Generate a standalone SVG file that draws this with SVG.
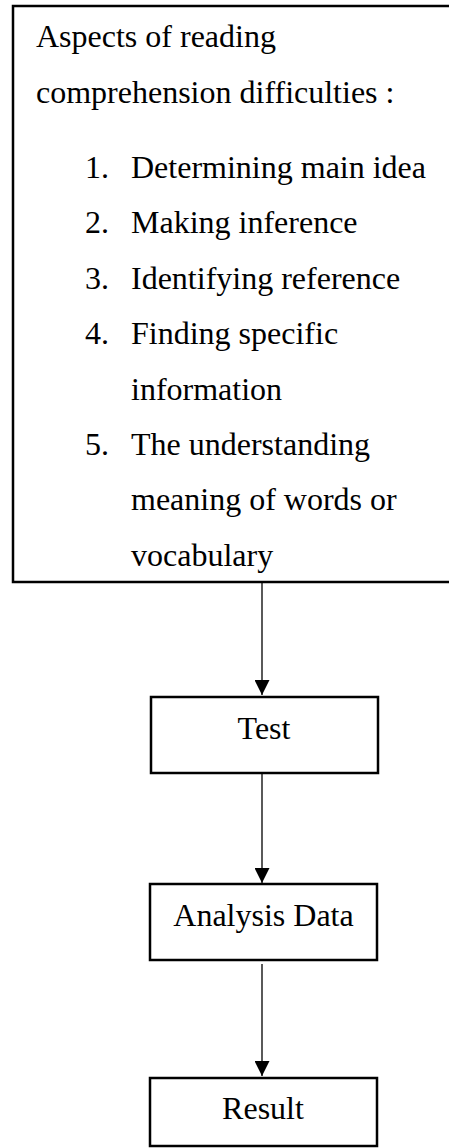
<svg xmlns="http://www.w3.org/2000/svg" width="449" height="1148" viewBox="0 0 449 1148">
<style>
.box{fill:#fff;stroke:#000;stroke-width:2.5}
.t{font-family:"Liberation Serif","Times New Roman",serif;font-size:32px;fill:#000}
.c{text-anchor:middle}
.edge{stroke:#000;stroke-width:1.3;fill:none}
</style>
<defs>
<marker id="arr" markerWidth="15" markerHeight="15" refX="15" refY="7.5" orient="auto" markerUnits="userSpaceOnUse">
<path d="M0,0 L15,7.5 L0,15 Z" fill="#000"/>
</marker>
</defs>
<rect width="449" height="1148" fill="#fff"/>
<g id="aspects">
<rect class="box" x="13" y="6" width="445" height="576"/>
<text class="t" x="36" y="47">Aspects of reading</text>
<text class="t" x="36" y="102.5">comprehension difficulties :</text>
<text class="t" x="85" y="178">1.</text><text class="t" x="131" y="178">Determining main idea</text>
<text class="t" x="85" y="233.4">2.</text><text class="t" x="131" y="233.4">Making inference</text>
<text class="t" x="85" y="288.8">3.</text><text class="t" x="131" y="288.8">Identifying reference</text>
<text class="t" x="85" y="344.2">4.</text><text class="t" x="131" y="344.2">Finding specific</text>
<text class="t" x="131" y="399.6">information</text>
<text class="t" x="85" y="455">5.</text><text class="t" x="131" y="455">The understanding</text>
<text class="t" x="131" y="510.4">meaning of words or</text>
<text class="t" x="131" y="565.8">vocabulary</text>
</g>
<g id="test">
<rect class="box" x="151" y="697" width="227" height="76"/>
<text class="t c" x="264" y="739">Test</text>
</g>
<g id="analysis">
<rect class="box" x="150" y="884" width="227" height="76"/>
<text class="t c" x="263.5" y="926">Analysis Data</text>
</g>
<g id="result">
<rect class="box" x="150" y="1078" width="227" height="68"/>
<text class="t c" x="263" y="1119">Result</text>
</g>
<g id="connectors">
<line class="edge" x1="262" y1="583" x2="262" y2="695" marker-end="url(#arr)"/>
<line class="edge" x1="262" y1="774" x2="262" y2="883" marker-end="url(#arr)"/>
<line class="edge" x1="262" y1="964" x2="262" y2="1076" marker-end="url(#arr)"/>
</g>
</svg>
